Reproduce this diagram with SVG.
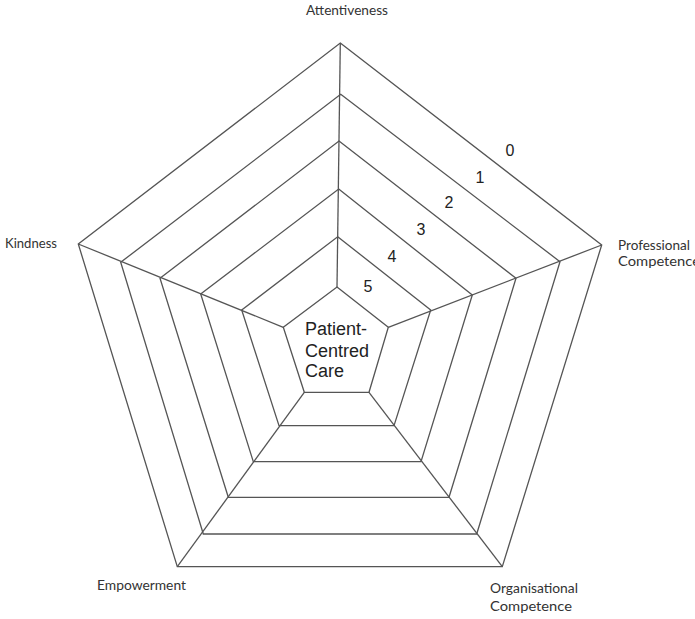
<svg xmlns="http://www.w3.org/2000/svg" width="695" height="619" viewBox="0 0 695 619">
<style>
.ring{fill:none;stroke:#555;stroke-width:1.3;stroke-linejoin:miter}
.spoke{stroke:#555;stroke-width:1.3}
.axis{font-family:Lato,"Open Sans",sans-serif;font-size:12.5px;fill:#333}
.num{font-family:"Liberation Sans",Arial,sans-serif;font-size:16px;fill:#222;text-anchor:middle}
.centre{font-family:"Liberation Sans",Arial,sans-serif;font-size:18px;fill:#222}
</style>
<rect width="695" height="619" fill="#fff"/>
<g id="rings">
<polygon id="ring0" class="ring" points="340.3,43 601.7,245 502.3,566.7 177.3,566.7 78.3,244"/>
<polygon id="ring1" class="ring" points="340.7,94.3 560,261.7 476.7,534 203.3,534 120.7,262.3"/>
<polygon id="ring2" class="ring" points="339,141 516,278.3 449,497.3 228.3,497.3 160,278.3"/>
<polygon id="ring3" class="ring" points="338.7,189 472.3,295 421,461.7 253.3,461.7 200.7,294"/>
<polygon id="ring4" class="ring" points="337.7,236.7 430.7,310 394,425.7 279,425.7 241.7,310"/>
<polygon id="ring5" class="ring" points="337,287 388.3,327.3 369,392.3 304.3,392.3 283.3,327.3"/>
</g>
<g id="connectors">
<line class="spoke" x1="340.3" y1="43" x2="337" y2="287"/>
<line class="spoke" x1="601.7" y1="245" x2="388.3" y2="327.3"/>
<line class="spoke" x1="502.3" y1="566.7" x2="369" y2="392.3"/>
<line class="spoke" x1="177.3" y1="566.7" x2="304.3" y2="392.3"/>
<line class="spoke" x1="78.3" y1="244" x2="283.3" y2="327.3"/>
</g>
<g id="axis-labels">
<text id="attentiveness" class="axis" x="306" y="15" textLength="82" lengthAdjust="spacingAndGlyphs">Attentiveness</text>
<g id="professional">
<text class="axis" x="618" y="250" textLength="72" lengthAdjust="spacingAndGlyphs">Professional</text>
<text class="axis" x="618" y="266" textLength="82" lengthAdjust="spacingAndGlyphs">Competence</text>
</g>
<g id="organisational">
<text class="axis" x="490" y="593" textLength="88" lengthAdjust="spacingAndGlyphs">Organisational</text>
<text class="axis" x="490" y="611" textLength="82" lengthAdjust="spacingAndGlyphs">Competence</text>
</g>
<text id="empowerment" class="axis" x="97" y="590" textLength="89" lengthAdjust="spacingAndGlyphs">Empowerment</text>
<text id="kindness" class="axis" x="5" y="248" textLength="52" lengthAdjust="spacingAndGlyphs">Kindness</text>
</g>
<g id="scale">
<text class="num" x="510" y="156">0</text>
<text class="num" x="480" y="182.7">1</text>
<text class="num" x="449" y="208.3">2</text>
<text class="num" x="421" y="235">3</text>
<text class="num" x="392" y="261.7">4</text>
<text class="num" x="368" y="292.3">5</text>
</g>
<g id="centre">
<text class="centre" x="305" y="335">Patient-</text>
<text class="centre" x="305" y="356.7">Centred</text>
<text class="centre" x="305" y="377.3">Care</text>
</g>
</svg>
